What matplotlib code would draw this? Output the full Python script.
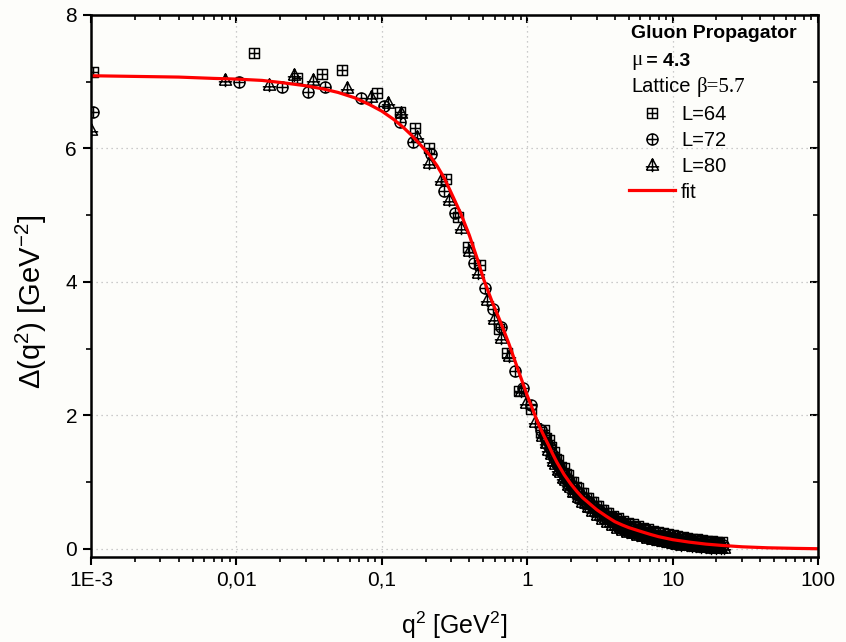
import matplotlib
matplotlib.use("Agg")
import matplotlib.pyplot as plt
import numpy as np
from matplotlib.path import Path

plt.rcParams['font.family'] = ['Liberation Sans', 'DejaVu Sans']
plt.rcParams['mathtext.fontset'] = 'custom'
plt.rcParams['mathtext.rm'] = 'Liberation Sans'
plt.rcParams['mathtext.it'] = 'Liberation Sans'

# ---- data ----
x_l64 = [0.00103, 0.0132, 0.026, 0.039, 0.053, 0.092, 0.133, 0.168, 0.21, 0.275, 0.335, 0.394, 0.47,
         0.64, 0.73, 0.88, 1.06, 1.24,
         1.30, 1.35, 1.41, 1.46, 1.52, 1.58, 1.64, 1.71, 1.78, 1.85, 1.92, 2.00, 2.08, 2.16, 2.25, 2.34,
         2.43, 2.53, 2.63, 2.74, 2.85, 2.96, 3.08, 3.20, 3.33, 3.46, 3.60, 3.75, 3.90, 4.05, 4.21, 4.38,
         4.56, 4.74, 4.93, 5.13, 5.33, 5.55, 5.77, 6.00, 6.24, 6.49, 6.75, 7.02, 7.30, 7.59, 7.90, 8.21,
         8.54, 8.88, 9.24, 9.61, 9.99, 10.4, 10.8, 11.2, 11.7, 12.2, 12.6, 13.1, 13.7, 14.2, 14.8, 15.4,
         16.0, 16.6, 17.3, 18.0, 18.7, 19.5, 20.2, 21.0, 21.9]
y_l64 = [7.15, 7.43, 7.05, 7.12, 7.18, 6.83, 6.55, 6.31, 6.01, 5.55, 4.98, 4.53, 4.26,
         3.29, 2.94, 2.36, 2.09, 1.76,
         1.78, 1.67, 1.63, 1.53, 1.46, 1.35, 1.33, 1.23, 1.21, 1.12, 1.11, 1.01, 1.01, 0.93, 0.92, 0.84,
         0.84, 0.77, 0.77, 0.70, 0.70, 0.64, 0.64, 0.59, 0.59, 0.54, 0.535, 0.485, 0.495, 0.445, 0.46, 0.41,
         0.425, 0.38, 0.395, 0.35, 0.37, 0.325, 0.345, 0.30, 0.32, 0.28, 0.295, 0.255, 0.275, 0.235, 0.255,
         0.215, 0.24, 0.20, 0.22, 0.185, 0.205, 0.17, 0.19, 0.157, 0.18, 0.145, 0.165, 0.135, 0.155, 0.125,
         0.145, 0.115, 0.135, 0.105, 0.125, 0.10, 0.12, 0.092, 0.112, 0.085, 0.105]

x_l72 = [0.00103, 0.0104, 0.0207, 0.0311, 0.041, 0.072, 0.103, 0.134, 0.163, 0.219, 0.266, 0.318, 0.433,
         0.51, 0.58, 0.66, 0.82, 0.93, 1.06, 1.24,
         1.32, 1.37, 1.43, 1.48, 1.54, 1.60, 1.66, 1.73, 1.80, 1.87, 1.95, 2.03, 2.11, 2.19, 2.28, 2.37,
         2.46, 2.56, 2.66, 2.77, 2.88, 3.00, 3.12, 3.24, 3.37, 3.51, 3.65, 3.79, 3.94, 4.10, 4.27, 4.44,
         4.61, 4.80, 4.99, 5.19, 5.40, 5.61, 5.84, 6.07, 6.31, 6.57, 6.83, 7.10, 7.38, 7.68, 7.99, 8.31,
         8.64, 8.98, 9.34, 9.72, 10.1, 10.5, 10.9, 11.4, 11.8, 12.3, 12.8, 13.3, 13.8, 14.4, 15.0, 15.6,
         16.2, 16.8, 17.5, 18.2, 18.9, 19.7, 20.5, 21.3, 22.1]
y_l72 = [6.55, 6.99, 6.92, 6.84, 6.92, 6.75, 6.63, 6.39, 6.09, 5.92, 5.37, 5.04, 4.29,
         3.91, 3.59, 3.32, 2.66, 2.41, 2.16, 1.79,
         1.68, 1.58, 1.53, 1.42, 1.36, 1.28, 1.25, 1.16, 1.12, 1.05, 1.015, 0.945, 0.92, 0.855, 0.835, 0.78,
         0.765, 0.71, 0.70, 0.64, 0.635, 0.58, 0.58, 0.53, 0.525, 0.48, 0.47, 0.43, 0.43, 0.39, 0.395, 0.355,
         0.36, 0.325, 0.33, 0.297, 0.306, 0.274, 0.283, 0.252, 0.26, 0.228, 0.237, 0.207, 0.217, 0.187,
         0.198, 0.17, 0.182, 0.154, 0.166, 0.137, 0.15, 0.124, 0.138, 0.112, 0.127, 0.101, 0.116, 0.091,
         0.107, 0.082, 0.097, 0.073, 0.088, 0.065, 0.081, 0.057, 0.074, 0.051, 0.068, 0.045, 0.062]

x_l80 = [0.001, 0.0083, 0.0167, 0.0249, 0.0334, 0.058, 0.084, 0.11, 0.135, 0.176, 0.212, 0.256, 0.29,
         0.35, 0.40, 0.46, 0.53, 0.59, 0.66, 0.75, 0.90, 0.98, 1.14, 1.27,
         1.34, 1.39, 1.45, 1.50, 1.56, 1.62, 1.69, 1.76, 1.83, 1.90, 1.98, 2.06, 2.14, 2.22, 2.31, 2.40,
         2.50, 2.60, 2.70, 2.81, 2.92, 3.04, 3.16, 3.28, 3.41, 3.55, 3.69, 3.84, 3.99, 4.15, 4.32, 4.49,
         4.67, 4.86, 5.05, 5.25, 5.46, 5.68, 5.91, 6.15, 6.39, 6.65, 6.91, 7.19, 7.48, 7.78, 8.09, 8.41,
         8.75, 9.10, 9.46, 9.84, 10.2, 10.6, 11.1, 11.5, 12.0, 12.5, 13.0, 13.5, 14.0, 14.6, 15.2, 15.8,
         16.4, 17.1, 17.8, 18.5, 19.2, 20.0, 20.8, 21.6, 22.5]
y_l80 = [6.28, 7.03, 6.95, 7.10, 7.03, 6.90, 6.77, 6.68, 6.53, 6.17, 5.78, 5.53, 5.23,
         4.81, 4.46, 4.13, 3.73, 3.44, 3.16, 2.89, 2.36, 2.19, 1.91, 1.69,
         1.59, 1.49, 1.43, 1.32, 1.28, 1.19, 1.16, 1.07, 1.04, 0.96, 0.935, 0.86, 0.85, 0.775, 0.765,
         0.70, 0.695, 0.63, 0.625, 0.565, 0.565, 0.505, 0.51, 0.455, 0.46, 0.405, 0.405, 0.36, 0.365, 0.32,
         0.33, 0.285, 0.295, 0.26, 0.267, 0.235, 0.243, 0.211, 0.22, 0.19, 0.196, 0.17, 0.175, 0.15,
         0.157, 0.132, 0.14, 0.118, 0.125, 0.105, 0.11, 0.088, 0.095, 0.075, 0.083, 0.065, 0.073, 0.055, 0.063,
         0.047, 0.055, 0.04, 0.047, 0.033, 0.04, 0.027, 0.033, 0.021, 0.028, 0.017, 0.023, 0.013, 0.019]

x_fit = [0.001, 0.002, 0.004, 0.007, 0.01, 0.015, 0.02, 0.03, 0.04, 0.05, 0.065, 0.082, 0.1, 0.12,
         0.14, 0.16, 0.18, 0.21, 0.24, 0.27, 0.31, 0.35, 0.40, 0.45, 0.50, 0.57, 0.65, 0.75, 0.88,
         1.0, 1.1, 1.2, 1.3, 1.4, 1.5, 1.6, 1.8, 2.0, 2.2, 2.4, 2.7, 3.0, 3.5, 4.0, 4.5, 5.0, 6.0,
         7.0, 8.0, 10, 13, 17, 22, 30, 45, 70, 100]
y_fit = [7.09, 7.08, 7.07, 7.05, 7.04, 7.02, 6.99, 6.94, 6.89, 6.84, 6.76, 6.66, 6.56, 6.44,
         6.32, 6.20, 6.08, 5.92, 5.74, 5.55, 5.27, 5.02, 4.70, 4.37, 4.05, 3.72, 3.42, 3.07, 2.64,
         2.30, 2.07, 1.86, 1.70, 1.56, 1.42, 1.30, 1.11, 0.97, 0.86, 0.77, 0.675, 0.59, 0.49, 0.41,
         0.36, 0.32, 0.265, 0.22, 0.185, 0.14, 0.103, 0.073, 0.053, 0.033, 0.018, 0.009, 0.004]

xticks = [1e-3, 1e-2, 1e-1, 1, 10, 100]
xtick_labels = ["1E-3", "0,01", "0,1", "1", "10", "100"]
yticks = [0, 2, 4, 6, 8]
yminor = [1, 3, 5, 7]

# ---- marker shapes: square+cross, circle+cross, triangle+cross ----
M, L = Path.MOVETO, Path.LINETO
sq_plus = Path([(-1, -1), (1, -1), (1, 1), (-1, 1), (-1, -1), (0, -1), (0, 1), (-1, 0), (1, 0)],
               [M, L, L, L, L, M, L, M, L])
circ = Path.unit_circle()
circ_plus = Path(np.concatenate([circ.vertices, [[0, -1], [0, 1], [-1, 0], [1, 0]]]),
                 np.concatenate([circ.codes, [M, L, M, L]]))
tri_plus = Path([(-0.9, -0.7), (0.9, -0.7), (0, 1), (-0.9, -0.7), (0, -1.0), (0, 1), (-1, -0.2), (1, -0.2)],
                [M, L, L, L, M, L, M, L])

bg = '#fdfdfa'
fig = plt.figure(figsize=(8.46, 6.42), dpi=100, facecolor=bg)
ax = fig.add_axes([91 / 846, 1 - 557 / 642, (818 - 91) / 846, (557 - 15) / 642])
ax.set_facecolor(bg)

mk = dict(linestyle='none', markerfacecolor='none', markeredgecolor='black', markeredgewidth=1.05)
ax.plot(x_l64, y_l64, marker=sq_plus, markersize=7.2, label='L=64', **mk)
ax.plot(x_l72, y_l72, marker=circ_plus, markersize=8.0, label='L=72', **mk)
ax.plot(x_l80, y_l80, marker=tri_plus, markersize=9.6, label='L=80', **mk)
ax.plot(x_fit, y_fit, color='#ff0000', lw=2.3, label='fit')

ax.set_xscale('log')
ax.set_xlim(1e-3, 100)
ax.set_ylim(-0.12, 8)
ax.set_xticks(xticks)
ax.set_xticklabels(xtick_labels)
ax.set_yticks(yticks)
ax.set_yticks(yminor, minor=True)
ax.grid(True, which='major', linestyle=(0, (1, 3)), color='#bbbbbb', linewidth=0.9)

for s in ax.spines.values():
    s.set_linewidth(1.8)
ax.tick_params(which='major', direction='out', length=6, width=1.5, labelsize=15, pad=4)
ax.tick_params(which='minor', direction='out', length=3.5, width=1.2)

top = ax.secondary_xaxis('top')
top.set_xticks(xticks)
top.tick_params(which='major', direction='in', length=6, width=1.5, labeltop=False)
top.tick_params(which='minor', direction='in', length=3.5, width=1.2)
right = ax.secondary_yaxis('right')
right.set_yticks(yticks)
right.set_yticks(yminor, minor=True)
right.tick_params(which='major', direction='in', length=6, width=1.5, labelright=False)
right.tick_params(which='minor', direction='in', length=3.5, width=1.2)

ax.set_xlabel('q$^{2}$ [GeV$^{2}$]', fontsize=18, labelpad=14)
ax.set_ylabel('Δ(q$^{2}$) [GeV$^{-2}$]', fontsize=21)
ax.yaxis.set_label_coords(-0.058, 0.47)

# legend header
fig.text(631 / 846, 1 - 34 / 642, 'Gluon Propagator', fontsize=14, fontweight='bold', va='center')
fig.text(631 / 846, 1 - 61 / 642, 'μ', fontsize=15, family='Liberation Serif', va='center')
fig.text(641 / 846, 1 - 61 / 642, ' = 4.3', fontsize=14, fontweight='bold', va='center')
fig.text(631 / 846, 1 - 87 / 642, 'Lattice', fontsize=14.5, va='center')
fig.text(697 / 846, 1 - 87 / 642, 'β=5.7', fontsize=15, family='Liberation Serif', va='center')

ax.legend(loc='upper left', bbox_to_anchor=(629 / 846, 1 - 105 / 642), bbox_transform=fig.transFigure,
          frameon=False, fontsize=14.5, handlelength=2.3, handletextpad=0.29, labelspacing=0.34,
          borderpad=0, borderaxespad=0)

fig.savefig('out.png', dpi=100, facecolor=bg)
